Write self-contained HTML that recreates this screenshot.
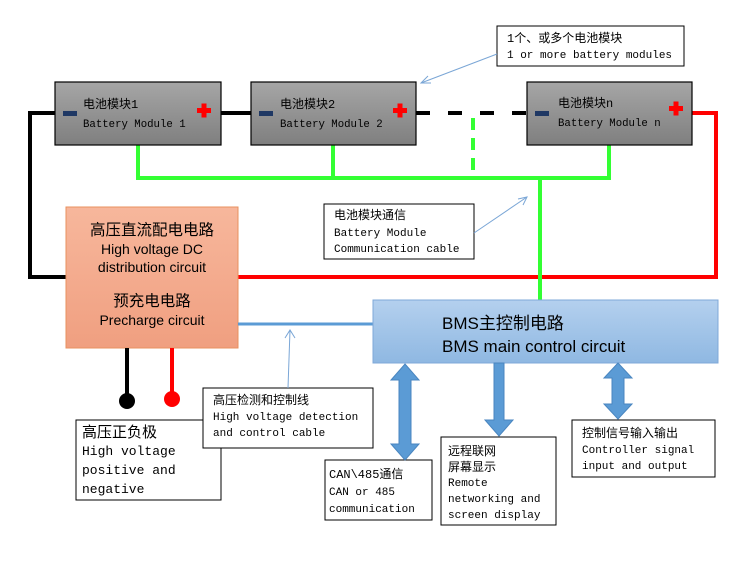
<!DOCTYPE html>
<html><head><meta charset="utf-8"><style>
body{margin:0;background:#fff;}
svg text{font-family:"Liberation Mono","Noto Sans CJK SC",monospace;fill:#000;}
svg text.s{font-family:"Liberation Sans","Noto Sans CJK SC",sans-serif;}
svg text.c{font-size:12px;}
</style></head><body>
<svg width="750" height="578" viewBox="0 0 750 578" xmlns="http://www.w3.org/2000/svg" font-size="11">
<defs>
<linearGradient id="g" x1="0" y1="0" x2="0" y2="1"><stop offset="0" stop-color="#a6a6a6"/><stop offset="1" stop-color="#7f7f7f"/></linearGradient>
<linearGradient id="o" x1="0" y1="0" x2="0" y2="1"><stop offset="0" stop-color="#f7b79c"/><stop offset="1" stop-color="#f09f80"/></linearGradient>
<linearGradient id="b" x1="0" y1="0" x2="0" y2="1"><stop offset="0" stop-color="#b4d0ee"/><stop offset="1" stop-color="#8fb8e2"/></linearGradient>
</defs>
<polyline points="55,113 30,113 30,277 66,277" fill="none" stroke="#000" stroke-width="4"/>
<line x1="221" y1="113" x2="251" y2="113" stroke="#000" stroke-width="4"/>
<line x1="416" y1="113" x2="527" y2="113" stroke="#000" stroke-width="4" stroke-dasharray="14,18"/>
<polyline points="692,113 716,113 716,277 238,277" fill="none" stroke="#f00" stroke-width="4"/>
<g stroke="#3f3" stroke-width="4" fill="none">
<polyline points="138,145 138,178 609,178 609,145"/>
<line x1="333" y1="145" x2="333" y2="178"/>
<line x1="473" y1="118" x2="473" y2="178" stroke-dasharray="12,8"/>
<line x1="540" y1="178" x2="540" y2="300"/>
</g>
<g stroke="#000" stroke-width="1.2" fill="url(#g)">
<rect x="55" y="82" width="166" height="63"/>
<rect x="251" y="82" width="165" height="63"/>
<rect x="527" y="82" width="165" height="63"/>
</g>
<g fill="#1f3864"><rect x="63" y="111" width="14" height="5"/><rect x="259" y="111" width="14" height="5"/><rect x="535" y="111" width="14" height="5"/></g>
<g fill="#f00"><rect x="197" y="108" width="14" height="5"/><rect x="201.5" y="103.5" width="5" height="14"/>
<rect x="393" y="108" width="14" height="5"/><rect x="397.5" y="103.5" width="5" height="14"/>
<rect x="669" y="106" width="14" height="5"/><rect x="673.5" y="101.5" width="5" height="14"/></g>
<g style="font-size:10.7px">
<text class="c" x="83" y="108">电池模块1</text><text x="83" y="127">Battery Module 1</text>
<text class="c" x="280" y="108">电池模块2</text><text x="280" y="127">Battery Module 2</text>
<text class="c" x="558" y="107">电池模块n</text><text x="558" y="126">Battery Module n</text>
</g>
<rect x="66" y="207" width="172" height="141" fill="url(#o)" stroke="#e8915f" stroke-width="1"/>
<g text-anchor="middle">
<text class="s" x="152" y="235" style="font-size:15.5px">高压直流配电电路</text>
<text class="s" x="152" y="254" style="font-size:14px">High voltage DC</text>
<text class="s" x="152" y="272" style="font-size:14px">distribution circuit</text>
<text class="s" x="152" y="306" style="font-size:15.5px">预充电电路</text>
<text class="s" x="152" y="325" style="font-size:14px">Precharge circuit</text>
</g>
<line x1="238" y1="324" x2="373" y2="324" stroke="#5b9bd5" stroke-width="3"/>
<rect x="373" y="300" width="345" height="63" fill="url(#b)" stroke="#7fa8d8"/>
<text class="s" x="442" y="329" style="font-size:17px">BMS主控制电路</text>
<text class="s" x="442" y="352" style="font-size:17px">BMS main control circuit</text>
<line x1="127" y1="348" x2="127" y2="400" stroke="#000" stroke-width="4"/>
<line x1="172" y1="348" x2="172" y2="398" stroke="#f00" stroke-width="4"/>
<circle cx="127" cy="401" r="8" fill="#000"/><circle cx="172" cy="399" r="8" fill="#f00"/>
<g fill="#fff" stroke="#000" stroke-width="1">
<rect x="76" y="420" width="145" height="80"/>
<rect x="203" y="388" width="170" height="60"/>
<rect x="324" y="204" width="150" height="55"/>
<rect x="497" y="26" width="187" height="40"/>
<rect x="325" y="460" width="107" height="60"/>
<rect x="441" y="437" width="115" height="88"/>
<rect x="572" y="420" width="143" height="57"/>
</g>
<text x="82" y="437" style="font-size:15px">高压正负极</text>
<text x="82" y="455" style="font-size:13px">High voltage</text>
<text x="82" y="474" style="font-size:13px">positive and</text>
<text x="82" y="493" style="font-size:13px">negative</text>
<text class="c" x="213" y="404">高压检测和控制线</text>
<text x="213" y="420">High voltage detection</text>
<text x="213" y="436">and control cable</text>
<text class="c" x="334" y="219">电池模块通信</text>
<text x="334" y="236">Battery Module</text>
<text x="334" y="252">Communication cable</text>
<text class="c" x="507" y="42">1个、或多个电池模块</text>
<text x="507" y="58">1 or more battery modules</text>
<text class="c" x="329" y="478">CAN\485通信</text>
<text x="329" y="495">CAN or 485</text>
<text x="329" y="512">communication</text>
<text class="c" x="448" y="455">远程联网</text>
<text class="c" x="448" y="471">屏幕显示</text>
<text x="448" y="486">Remote</text>
<text x="448" y="502">networking and</text>
<text x="448" y="518">screen display</text>
<text class="c" x="582" y="437">控制信号输入输出</text>
<text x="582" y="453">Controller signal</text>
<text x="582" y="469">input and output</text>
<g stroke="#7aa6d6" stroke-width="1" fill="none">
<line x1="497" y1="54" x2="421" y2="83"/><polyline points="428,76 421,83 431,83"/>
<line x1="474" y1="233" x2="527" y2="197"/><polyline points="518,199 527,197 523,205"/>
<line x1="288" y1="388" x2="290" y2="330"/><polyline points="285,338 290,330 295,338"/>
</g>
<g fill="#5b9bd5" stroke="#4a86c0" stroke-width="1">
<polygon points="405,364 419,380 411,380 411,444 419,444 405,460 391,444 399,444 399,380 391,380"/>
<polygon points="494,363 504,363 504,420 513,420 499,436 485,420 494,420"/>
<polygon points="618,363 632,378 624,378 624,404 632,404 618,419 604,404 612,404 612,378 604,378"/>
</g>
</svg>
</body></html>
